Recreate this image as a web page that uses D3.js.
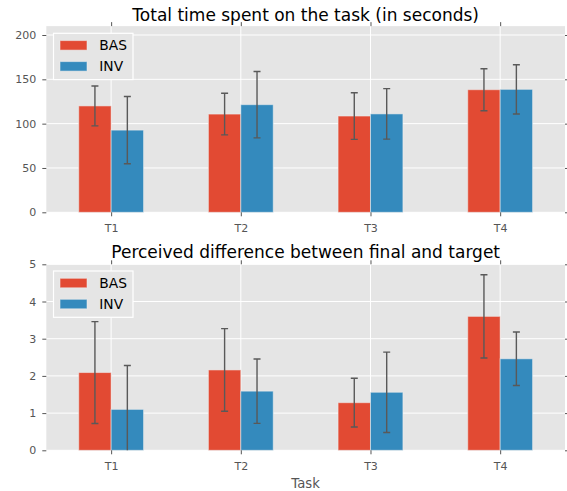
<!DOCTYPE html>
<html><head><meta charset="utf-8">
<script src="https://cdn.jsdelivr.net/npm/d3@7"></script>
<style>body{margin:0;background:#fff}svg{display:block}text{font-family:"DejaVu Sans",sans-serif}</style>
</head><body><svg id="c" width="567" height="491"></svg>
<script>
const tasks = ["T1","T2","T3","T4"];
const seriesNames = ["BAS","INV"];
const timeBAS = [120, 110.8, 108.6, 138.3];
const timeBASerr = [22.5, 23.5, 26.3, 23.7];
const timeINV = [92.7, 121.4, 111, 138.7];
const timeINVerr = [38, 37.4, 28.5, 27.8];
const diffBAS = [2.09, 2.16, 1.28, 3.60];
const diffBASerr = [1.37, 1.11, 0.655, 1.12];
const diffINV = [1.10, 1.59, 1.56, 2.46];
const diffINVerr = [1.18, 0.865, 1.08, 0.72];
const timeTicks = [0, 50, 100, 150, 200];
const diffTicks = [0, 1, 2, 3, 4, 5];
const colors = ["#E24A33", "#348ABD"];

const svg = d3.select("#c");
const W = 0.25;

function panel(cfg){
  const g = svg.append("g");
  const x = d3.scaleLinear().domain([-0.25, 3.75]).range([46.3, 565]);
  const y = d3.scaleLinear().domain(cfg.ydom).range([cfg.y0, cfg.ytop]);
  const top = y(cfg.ydom[1]), bot = y(0);
  g.append("rect").attr("x", x(-0.25)).attr("y", top).attr("width", x(3.75)-x(-0.25)).attr("height", bot-top).attr("fill", "#E5E5E5");
  const xt = tasks.map((d,i)=>i+W);
  // grid
  g.selectAll(".hg").data(cfg.yticks).join("line").attr("x1", x(-0.25)).attr("x2", x(3.75))
    .attr("y1", d=>y(d)).attr("y2", d=>y(d)).attr("stroke", "#fff").attr("stroke-width", 1);
  g.selectAll(".vg").data(xt).join("line").attr("y1", top).attr("y2", bot)
    .attr("x1", d=>x(d)).attr("x2", d=>x(d)).attr("stroke", "#fff").attr("stroke-width", 1);
  // bars
  cfg.series.forEach((s, si)=>{
    g.selectAll(null).data(s.vals).join("rect")
      .attr("x", (d,i)=>x(i + si*W)).attr("width", x(W)-x(0))
      .attr("y", d=>y(d)).attr("height", d=>y(0)-y(d))
      .attr("fill", colors[si]).attr("stroke", "rgba(238,238,238,0.55)").attr("stroke-width", 1);
  });
  // error bars
  const cw = 3.5;
  const clipId = "clip" + cfg.id;
  g.append("clipPath").attr("id", clipId).append("rect").attr("x", x(-0.25)).attr("y", top-5).attr("width", x(3.75)-x(-0.25)).attr("height", bot-top+5);
  const eg = g.append("g").attr("clip-path", `url(#${clipId})`).attr("stroke", "#595959").attr("stroke-width", 1.4);
  cfg.series.forEach((s, si)=>{
    s.vals.forEach((v,i)=>{
      const cx = x(i + si*W + W/2);
      const lo = v - s.err[i], hi = v + s.err[i];
      eg.append("line").attr("x1", cx).attr("x2", cx).attr("y1", y(lo)).attr("y2", y(hi));
      eg.append("line").attr("x1", cx-cw).attr("x2", cx+cw).attr("y1", y(hi)).attr("y2", y(hi));
      if (lo >= 0) eg.append("line").attr("x1", cx-cw).attr("x2", cx+cw).attr("y1", y(lo)).attr("y2", y(lo));
    });
  });
  // axes
  const ax = d3.axisBottom(x).tickValues(xt).tickFormat((d,i)=>tasks[i]).tickSize(4).tickPadding(8);
  const axT = d3.axisTop(x).tickValues(xt).tickFormat("").tickSize(4);
  const ay = d3.axisLeft(y).tickValues(cfg.yticks).tickFormat(d3.format("d")).tickSize(4).tickPadding(6);
  const ayR = d3.axisRight(y).tickValues(cfg.yticks).tickFormat("").tickSize(4);
  const style = sel => { sel.select(".domain").remove(); sel.selectAll(".tick line").attr("stroke", "#555");
    sel.selectAll(".tick text").attr("fill", "#555").style("font-size", "11px").style("font-family", "DejaVu Sans"); };
  g.append("g").attr("transform", `translate(0,${bot})`).call(ax).call(style);
  g.append("g").attr("transform", `translate(0,${top})`).call(axT).call(style);
  g.append("g").attr("transform", `translate(${x(-0.25)},0)`).call(ay).call(style);
  g.append("g").attr("transform", `translate(${x(3.75)},0)`).call(ayR).call(style);
  // title
  g.append("text").attr("x", (x(-0.25)+x(3.75))/2).attr("y", cfg.titleY).attr("text-anchor", "middle")
    .style("font-size", "17px").attr("fill", "#000").text(cfg.title);
  // legend
  const lg = g.append("g").attr("transform", `translate(53.5,${cfg.legY})`);
  lg.append("rect").attr("x", 0).attr("y", 0).attr("width", 79.5).attr("height", 46.3).attr("fill", "#E5E5E5").attr("stroke", "#fff").attr("stroke-width", 1.2);
  seriesNames.forEach((n, i)=>{
    lg.append("rect").attr("x", 6.5).attr("y", 7.3 + i*21).attr("width", 27).attr("height", 9.5)
      .attr("fill", colors[i]).attr("stroke", "rgba(238,238,238,0.55)").attr("stroke-width", 1);
    lg.append("text").attr("x", 45.8).attr("y", 12 + i*21).attr("dy", "0.36em").style("font-size", "13.8px").attr("fill", "#000").text(n);
  });
}

panel({id:"a", ydom:[0,210], y0:212.3, ytop:212.3-210*0.8865, yticks:timeTicks, title:"Total time spent on the task (in seconds)", titleY:20.5, legY:33.3,
  series:[{vals:timeBAS, err:timeBASerr},{vals:timeINV, err:timeINVerr}]});
panel({id:"b", ydom:[0,5], y0:450.3, ytop:264.3, yticks:diffTicks, title:"Perceived difference between final and target", titleY:258.3, legY:271,
  series:[{vals:diffBAS, err:diffBASerr},{vals:diffINV, err:diffINVerr}]});

svg.append("text").attr("x", 305.6).attr("y", 488).attr("text-anchor", "middle").style("font-size", "13.2px").attr("fill", "#555").text("Task");
</script></body></html>
